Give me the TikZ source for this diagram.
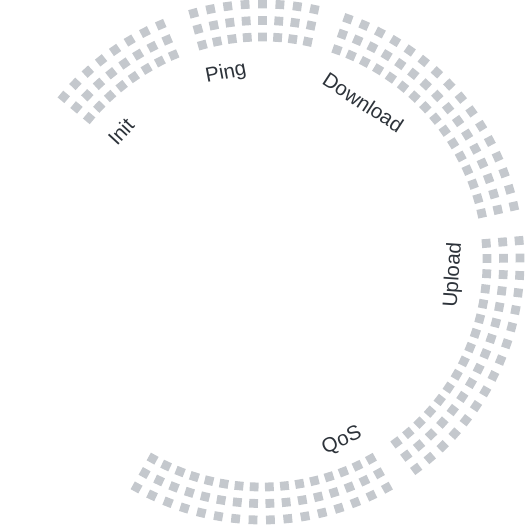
\documentclass[tikz,border=0pt]{standalone}
\usepackage{fontspec}
\setmainfont{Liberation Sans}
\usetikzlibrary{calc}
\definecolor{dotc}{RGB}{196,200,205}
\definecolor{txtc}{RGB}{45,51,58}
\begin{document}
\begin{tikzpicture}[x=1pt,y=1pt,
  lbl/.style={text=txtc,font=\fontsize{20.5}{24}\selectfont,inner sep=0pt,anchor=center}]
\useasboundingbox (0,0) rectangle (525,525);
\coordinate (C) at (262,263);
\foreach \s/\e in {0/7, 9/16, 18/33, 35/50, 52/67}{
  \foreach \k in {\s,...,\e}{
    \pgfmathsetmacro\a{140.2-3.87*\k}
    \foreach \r in {225,241.5,258}{
      \fill[dotc, shift={(C)}, rotate=\a] (\r-4.4,-4.4) rectangle ++(8.8,8.8);
    }
  }
}
\node[lbl, rotate=47.3]  (init) at ($(C)+(137.3:192)$) {Init};
\node[lbl, rotate=10.8]  (ping) at ($(C)+(100.8:192)$) {Ping};
\node[lbl, rotate=-33]   (down) at ($(C)+(57.6:189)$) {Download};
\node[lbl, rotate=86.1]  (up)   at ($(C)+(-3.9:192)$) {Upload};
\node[lbl, rotate=24.1]  (qos)  at ($(C)+(-65.9:196)$) {QoS};
\end{tikzpicture}
\end{document}
